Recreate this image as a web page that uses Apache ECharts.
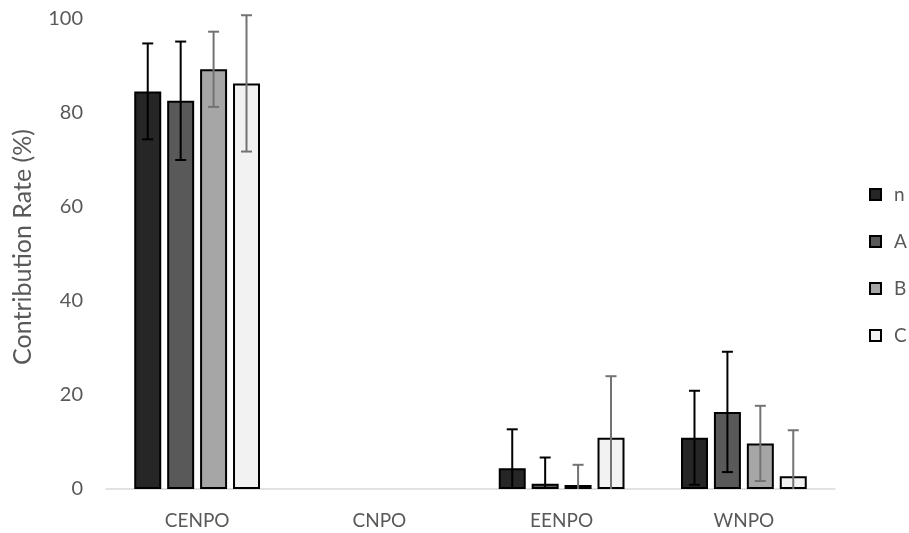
<!DOCTYPE html>
<html><head><meta charset="utf-8">
<script src="https://cdn.jsdelivr.net/npm/echarts@6/dist/echarts.min.js"></script>
<style>html,body{margin:0;padding:0;background:#fff}#c{width:909px;height:533px}</style>
</head><body><div id="c"></div>
<script>
var categories = ['CENPO', 'CNPO', 'EENPO', 'WNPO'];
var seriesNames = ['n', 'A', 'B', 'C'];
var valN = [84.6, 0, 4.4, 10.9];
var valA = [82.6, 0, 1.1, 16.4];
var valB = [89.3, 0, 0.85, 9.7];
var valC = [86.3, 0, 10.9, 2.7];
var errN = [10.2, 0, 8.3, 10.0];
var errA = [12.6, 0, 5.6, 12.8];
var errB = [8.0, 0, 4.3, 8.0];
var errC = [14.5, 0, 13.1, 9.8];
var yTicks = [0, 20, 40, 60, 80, 100];

var values = [valN, valA, valB, valC];
var errors = [errN, errA, errB, errC];
var fills = ['#262626', '#595959', '#a6a6a6', '#f2f2f2'];
var errColors = ['#000000', '#000000', '#737373', '#737373'];
var catGap = 0.31, barGap = 0.22;
var nS = seriesNames.length;
var FONT = 'Lato, "Open Sans", sans-serif';

var series = [];
seriesNames.forEach(function (name, i) {
  series.push({
    name: name, type: 'bar',
    data: values[i].map(function (v) { return v === 0 ? { value: v, itemStyle: { borderWidth: 0 } } : v; }),
    barCategoryGap: (catGap * 100) + '%', barGap: (barGap * 100) + '%',
    itemStyle: { color: fills[i], borderColor: '#000', borderWidth: 2 },
    emphasis: { disabled: true }, z: 2
  });
});
seriesNames.forEach(function (name, i) {
  var d = values[i].map(function (v, k) { return [k, v, errors[i][k]]; });
  series.push({
    name: 'err_' + name, type: 'custom', data: d, z: 5, silent: true,
    renderItem: function (params, api) {
      var k = api.value(0), v = api.value(1), e = api.value(2);
      if (!e) return null;
      var band = api.size([1, 0])[0];
      var w = band * (1 - catGap) / (nS + (nS - 1) * barGap);
      var total = nS * w + (nS - 1) * w * barGap;
      var off = -total / 2 + i * w * (1 + barGap) + w / 2;
      var hi = api.coord([k, v + e]);
      var lo = api.coord([k, Math.max(0, v - e)]);
      var x = hi[0] + off;
      var cap = 5.5;
      var style = { stroke: errColors[i], lineWidth: 2 };
      var children = [
        { type: 'line', shape: { x1: x, y1: hi[1], x2: x, y2: lo[1] }, style: style },
        { type: 'line', shape: { x1: x - cap, y1: hi[1], x2: x + cap, y2: hi[1] }, style: style }
      ];
      if (v - e > 0) children.push({ type: 'line', shape: { x1: x - cap, y1: lo[1], x2: x + cap, y2: lo[1] }, style: style });
      return { type: 'group', children: children };
    }
  });
});

var chart = echarts.init(document.getElementById('c'));
chart.setOption({
  animation: false,
  textStyle: { fontFamily: FONT },
  grid: { left: 106, right: 74, top: 19, bottom: 44 },
  legend: {
    data: seriesNames, orient: 'vertical', left: 864, top: 180,
    icon: 'rect', itemWidth: 11, itemHeight: 11, itemGap: 28,
    textStyle: { fontSize: 19, color: '#595959', fontFamily: FONT, padding: [0, 0, 0, 8] },
    selectedMode: false
  },
  xAxis: {
    type: 'category', data: categories,
    axisLine: { lineStyle: { color: '#d9d9d9', width: 1.5 } },
    axisTick: { show: false },
    axisLabel: { fontSize: 19, color: '#595959', margin: 22 }
  },
  yAxis: {
    type: 'value', min: yTicks[0], max: yTicks[yTicks.length - 1], interval: 20,
    name: 'Contribution Rate (%)', nameLocation: 'middle', nameGap: 71, nameRotate: 90,
    nameTextStyle: { fontSize: 25, color: '#595959', padding: [0, 0, 0, 14] },
    axisLine: { show: false }, axisTick: { show: false }, splitLine: { show: false },
    axisLabel: { fontSize: 20, color: '#595959', margin: 23 }
  },
  series: series
});
</script></body></html>
